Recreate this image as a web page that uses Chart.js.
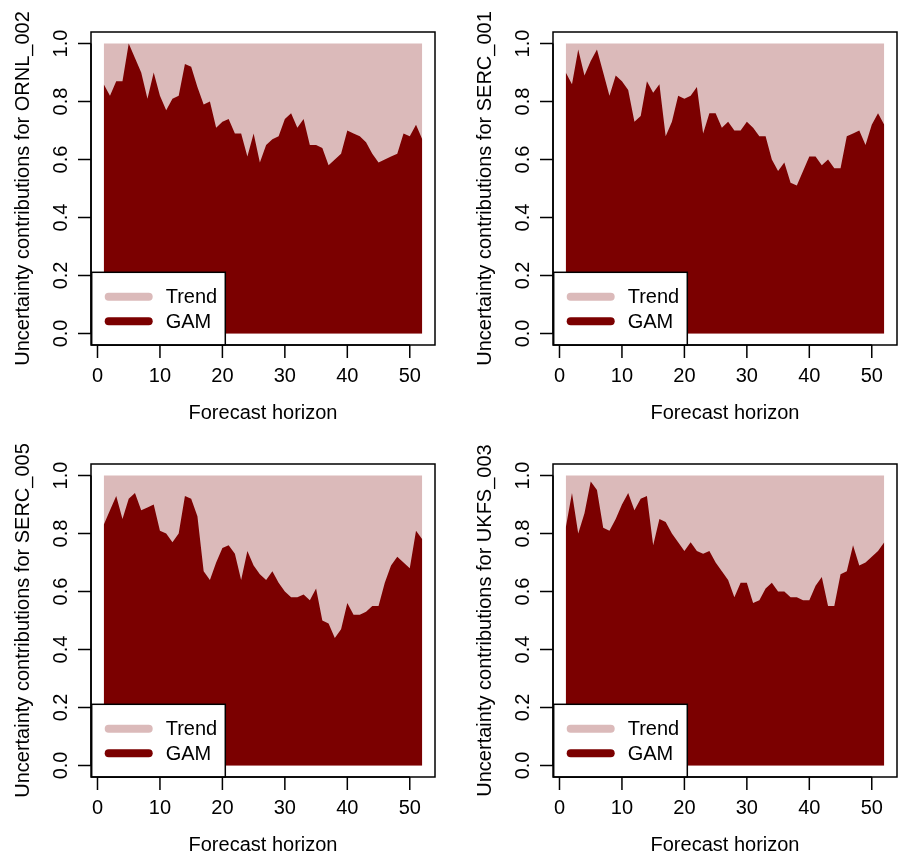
<!DOCTYPE html>
<html>
<head>
<meta charset="utf-8">
<script src="https://cdn.jsdelivr.net/npm/chart.js@4/dist/chart.umd.min.js"></script>
<style>
  body { margin: 0; background: #fff; }
  #wrap { position: relative; width: 899px; height: 856px; }
  canvas { position: absolute; }
</style>
</head>
<body>
<div id="wrap"></div>
<script>
// forecast horizons 1..52
const horizons = [1,2,3,4,5,6,7,8,9,10,11,12,13,14,15,16,17,18,19,20,21,22,23,24,25,26,
  27,28,29,30,31,32,33,34,35,36,37,38,39,40,41,42,43,44,45,46,47,48,49,50,51,52];

const sites = ['ORNL_002', 'SERC_001', 'SERC_005', 'UKFS_003'];

// GAM share of uncertainty; the remainder up to 1 is the trend share
const gamORNL002 = [0.86,0.82,0.87,0.87,1.00,0.95,0.90,0.81,0.90,0.82,0.77,0.81,0.82,0.93,0.92,0.85,0.79,0.80,0.71,0.73,
  0.74,0.69,0.69,0.61,0.69,0.59,0.65,0.67,0.68,0.74,0.76,0.71,0.74,0.65,0.65,0.64,0.58,0.60,0.62,0.70,
  0.69,0.68,0.66,0.62,0.59,0.60,0.61,0.62,0.69,0.68,0.72,0.67];
const gamSERC001 = [0.90,0.86,0.98,0.89,0.94,0.98,0.90,0.82,0.89,0.87,0.84,0.73,0.75,0.87,0.83,0.86,0.68,0.73,0.82,0.81,
  0.82,0.85,0.69,0.76,0.76,0.71,0.73,0.70,0.70,0.73,0.71,0.68,0.68,0.60,0.56,0.59,0.52,0.51,0.56,0.61,
  0.61,0.58,0.60,0.57,0.57,0.68,0.69,0.70,0.65,0.72,0.76,0.72];
const gamSERC005 = [0.83,0.88,0.93,0.85,0.92,0.94,0.88,0.89,0.90,0.81,0.80,0.77,0.80,0.93,0.92,0.86,0.67,0.64,0.70,0.75,
  0.76,0.73,0.64,0.74,0.69,0.66,0.64,0.67,0.63,0.60,0.58,0.58,0.59,0.57,0.61,0.50,0.49,0.44,0.47,0.56,
  0.52,0.52,0.53,0.55,0.55,0.63,0.69,0.72,0.70,0.68,0.81,0.78];
const gamUKFS003 = [0.82,0.94,0.80,0.87,0.98,0.95,0.82,0.81,0.85,0.90,0.94,0.88,0.92,0.93,0.76,0.85,0.84,0.80,0.77,0.74,
  0.77,0.74,0.73,0.74,0.70,0.67,0.64,0.58,0.63,0.63,0.56,0.57,0.61,0.63,0.60,0.60,0.58,0.58,0.57,0.57,
  0.62,0.65,0.55,0.55,0.66,0.67,0.76,0.69,0.70,0.72,0.74,0.77];
const gamSeries = [gamORNL002, gamSERC001, gamSERC005, gamUKFS003];

const xTicks = [0, 10, 20, 30, 40, 50];
const yTicks = [0.0, 0.2, 0.4, 0.6, 0.8, 1.0];

const trendColor = '#dbbaba';
const gamColor = '#7b0000';
const FONT = '20px "Liberation Sans", Arial, sans-serif';

// base-graphics style axes, box, titles and legend
const rAxesPlugin = {
  id: 'rAxes',
  afterDatasetsDraw(chart, args, opts) {
    const ctx = chart.ctx;
    const a = chart.chartArea;
    const xs = chart.scales.x;
    const ys = chart.scales.y;
    ctx.save();
    ctx.strokeStyle = '#000';
    ctx.fillStyle = '#000';
    ctx.lineWidth = 1.5;
    ctx.font = FONT;

    // x axis
    const y0 = a.bottom;
    ctx.beginPath();
    ctx.moveTo(xs.getPixelForValue(xTicks[0]), y0);
    ctx.lineTo(xs.getPixelForValue(xTicks[xTicks.length - 1]), y0);
    xTicks.forEach(t => {
      const px = xs.getPixelForValue(t);
      ctx.moveTo(px, y0);
      ctx.lineTo(px, y0 + 13);
    });
    ctx.stroke();
    ctx.textAlign = 'center';
    ctx.textBaseline = 'middle';
    xTicks.forEach(t => ctx.fillText(String(t), xs.getPixelForValue(t), y0 + 31));
    ctx.fillText('Forecast horizon', (a.left + a.right) / 2, y0 + 68);

    // y axis
    const x0 = a.left;
    ctx.beginPath();
    ctx.moveTo(x0, ys.getPixelForValue(yTicks[0]));
    ctx.lineTo(x0, ys.getPixelForValue(yTicks[yTicks.length - 1]));
    yTicks.forEach(t => {
      const py = ys.getPixelForValue(t);
      ctx.moveTo(x0, py);
      ctx.lineTo(x0 - 13, py);
    });
    ctx.stroke();
    yTicks.forEach(t => {
      ctx.save();
      ctx.translate(x0 - 30, ys.getPixelForValue(t));
      ctx.rotate(-Math.PI / 2);
      ctx.fillText(t.toFixed(1), 0, 0);
      ctx.restore();
    });
    ctx.save();
    ctx.translate(x0 - 68, (a.top + a.bottom) / 2);
    ctx.rotate(-Math.PI / 2);
    ctx.fillText('Uncertainty contributions for ' + opts.site, 0, 0);
    ctx.restore();

    // legend, bottom-left inside the box
    const lx = a.left + 0.7, ly = a.bottom - 72.7, lw = 133.6, lh = 72.7;
    ctx.fillStyle = '#fff';
    ctx.fillRect(lx, ly, lw, lh);
    ctx.strokeRect(lx, ly, lw, lh);
    const items = [chart.data.datasets[1], chart.data.datasets[0]];
    ctx.lineCap = 'round';
    ctx.textAlign = 'left';
    items.forEach((ds, i) => {
      const iy = ly + 24.4 + i * 24.6;
      ctx.strokeStyle = ds.backgroundColor;
      ctx.lineWidth = 8;
      ctx.beginPath();
      ctx.moveTo(lx + 17, iy);
      ctx.lineTo(lx + 57, iy);
      ctx.stroke();
      ctx.fillStyle = '#000';
      ctx.fillText(ds.label, lx + 74, iy + 1);
    });

    // plot box
    ctx.lineCap = 'butt';
    ctx.strokeStyle = '#000';
    ctx.lineWidth = 1.5;
    ctx.strokeRect(a.left, a.top, a.right - a.left, a.bottom - a.top);
    ctx.restore();
  }
};

const wrap = document.getElementById('wrap');
const offsets = [[0, 0], [462, 0], [0, 432], [462, 432]];

sites.forEach((site, k) => {
  const cv = document.createElement('canvas');
  cv.width = 437;
  cv.height = 424;
  cv.style.left = offsets[k][0] + 'px';
  cv.style.top = offsets[k][1] + 'px';
  wrap.appendChild(cv);

  const gam = gamSeries[k];
  new Chart(cv.getContext('2d'), {
    type: 'line',
    data: {
      datasets: [
        {
          label: 'GAM',
          data: horizons.map((h, i) => ({ x: h, y: gam[i] })),
          backgroundColor: gamColor,
          borderColor: 'rgba(0,0,0,0)',
          borderWidth: 0,
          pointRadius: 0,
          tension: 0,
          fill: { value: 0 },
          order: 0
        },
        {
          label: 'Trend',
          data: horizons.map(h => ({ x: h, y: 1 })),
          backgroundColor: trendColor,
          borderColor: 'rgba(0,0,0,0)',
          borderWidth: 0,
          pointRadius: 0,
          tension: 0,
          fill: { value: 0 },
          order: 1
        }
      ]
    },
    options: {
      responsive: false,
      animation: false,
      devicePixelRatio: 1,
      layout: { padding: { left: 91, top: 32, right: 2, bottom: 79 } },
      scales: {
        x: { type: 'linear', min: -1.04, max: 54.04, display: false },
        y: { type: 'linear', min: -0.04, max: 1.04, display: false }
      },
      plugins: {
        legend: { display: false },
        tooltip: { enabled: false },
        rAxes: { site: site }
      }
    },
    plugins: [rAxesPlugin]
  });
});
</script>
</body>
</html>
